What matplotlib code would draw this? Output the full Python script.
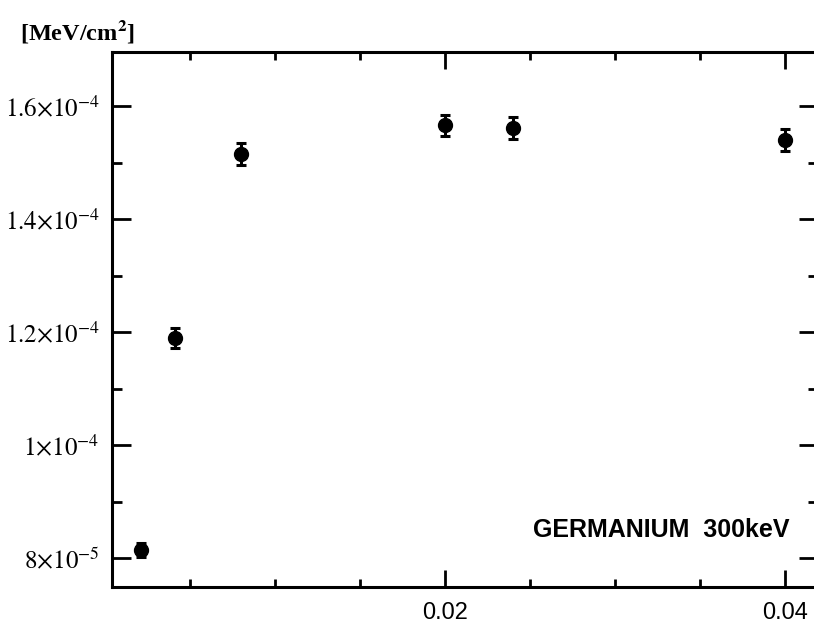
import matplotlib
matplotlib.use("Agg")
import matplotlib.pyplot as plt
from matplotlib.ticker import FixedLocator, MultipleLocator

plt.rcParams['mathtext.fontset'] = 'stix'

# energy deposit vs thickness, germanium at 300 keV
thickness = [0.0021, 0.0041, 0.008, 0.020, 0.024, 0.040]
deposit = [8.14e-5, 1.189e-4, 1.515e-4, 1.566e-4, 1.561e-4, 1.540e-4]
deposit_err = [1.2e-6, 1.8e-6, 1.9e-6, 1.9e-6, 1.9e-6, 1.9e-6]

ytick_vals = [8e-5, 1e-4, 1.2e-4, 1.4e-4, 1.6e-4]
ytick_labels = [r'$8{\times}10^{-5}$', r'$1{\times}10^{-4}$', r'$1.2{\times}10^{-4}$',
                r'$1.4{\times}10^{-4}$', r'$1.6{\times}10^{-4}$']
xtick_vals = [0.02, 0.04]
xtick_labels = ['0.02', '0.04']

fig = plt.figure(figsize=(8.14, 6.27), dpi=100)
ax = fig.add_axes([0.1376, 0.0638, 0.867, 0.853])

ax.errorbar(thickness, deposit, yerr=deposit_err, fmt='o', color='black',
            markersize=10, elinewidth=2.2, capsize=3.5, capthick=2.2)

ax.set_xlim(0.00041, 0.04194)
ax.set_ylim(7.487e-5, 1.6956e-4)

ax.xaxis.set_major_locator(FixedLocator(xtick_vals))
ax.set_xticklabels(xtick_labels, family='Liberation Sans', fontsize=17)
ax.xaxis.set_minor_locator(MultipleLocator(0.005))
ax.yaxis.set_major_locator(FixedLocator(ytick_vals))
ax.set_yticklabels(ytick_labels, fontsize=18)
ax.yaxis.set_minor_locator(MultipleLocator(1e-5))

ax.tick_params(axis='x', which='major', direction='in', length=12, width=2,
               top=True, pad=11)
ax.tick_params(axis='x', which='minor', direction='in', length=6, width=2, top=True)
ax.tick_params(axis='y', which='major', direction='in', length=14, width=2,
               right=True, pad=9)
ax.tick_params(axis='y', which='minor', direction='in', length=7, width=2, right=True)

for sp in ax.spines.values():
    sp.set_linewidth(2.2)

ax.text(0.96, 0.1065, 'GERMANIUM  300keV', transform=ax.transAxes,
        ha='right', va='center', family='Liberation Sans', fontweight='bold',
        fontsize=18)

fig.text(0.0246, 0.949, r'[MeV/cm$^\mathbf{2}$]', family='Liberation Serif',
         fontweight='bold', fontsize=17.5, ha='left', va='center')

fig.savefig('out.png', dpi=100)
